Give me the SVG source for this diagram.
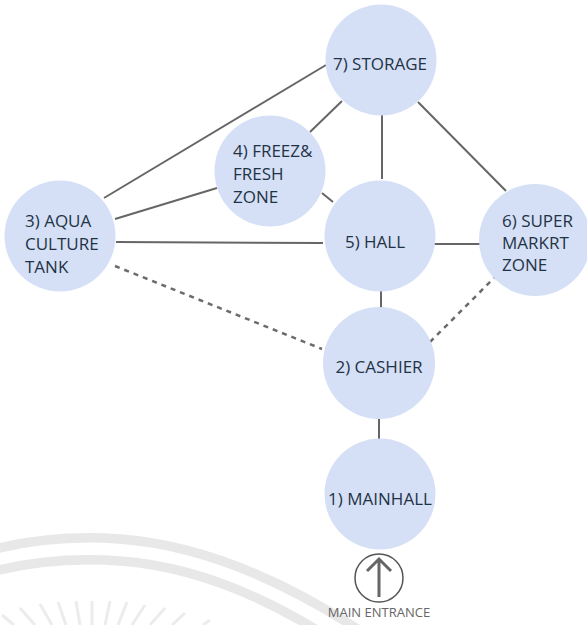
<svg xmlns="http://www.w3.org/2000/svg" width="587" height="625" viewBox="0 0 587 625">
<style>
.n{fill:#d5e0f6}
.t{font-family:"Open Sans","Noto Sans",sans-serif;font-size:17px;fill:#1f3345}
.c{stroke:#666;stroke-width:2;fill:none}
.d{stroke:#6b6b6b;stroke-width:2.5;fill:none;stroke-dasharray:5 5}
.w{stroke:#e8e8e8;stroke-width:9.5;fill:none}
.r{stroke:#ececec;stroke-width:3;fill:none}
</style>
<rect width="587" height="625" fill="#fff"/>
<g id="watermark">
<path class="w" d="M-5 549C40 538 80 536 120 539C200 545 280 578 362 632"/>
<path class="w" d="M-5 571C40 560 80 558 120 561C190 566 260 595 320 632"/>
<path class="r" d="M2 615L14 625M20 608L35 625M40 604L52 625M58 602L66 625M76 601L80 625M92 601L92 625M110 601L105 625M127 602L118 625M145 605L132 625M165 608L150 625M185 613L172 625M210 620L203 625"/>
</g>
<g id="connectors">
<path class="c" d="M104 198L326 65"/>
<path class="c" d="M115 219L217 188"/>
<path class="c" d="M116 242L323 243"/>
<path class="d" d="M115 266L322 349"/>
<path class="c" d="M310 132L342 101"/>
<path class="c" d="M382 115L382 179"/>
<path class="c" d="M418 102L506 191"/>
<path class="c" d="M322 193L333 202"/>
<path class="c" d="M434 244L480 244"/>
<path class="c" d="M381 291L381 308"/>
<path class="d" d="M430 342L495 277"/>
<path class="c" d="M379 418L379 439"/>
</g>
<g id="n7"><circle class="n" cx="381" cy="60" r="55.5"/><text class="t" x="380" y="70" text-anchor="middle">7) STORAGE</text></g>
<g id="n4"><circle class="n" cx="270" cy="171" r="55.5"/><text class="t" x="233" y="157">4) FREEZ&amp;</text><text class="t" x="233" y="180">FRESH</text><text class="t" x="233" y="203">ZONE</text></g>
<g id="n3"><circle class="n" cx="60" cy="236" r="55.5"/><text class="t" x="25" y="227">3) AQUA</text><text class="t" x="25" y="250">CULTURE</text><text class="t" x="25" y="273">TANK</text></g>
<g id="n5"><circle class="n" cx="380" cy="236" r="55.5"/><text class="t" x="375" y="248" text-anchor="middle">5) HALL</text></g>
<g id="n6"><circle class="n" cx="535" cy="240" r="56"/><text class="t" x="502" y="227">6) SUPER</text><text class="t" x="502" y="249">MARKRT</text><text class="t" x="502" y="271">ZONE</text></g>
<g id="n2"><circle class="n" cx="379" cy="363" r="56"/><text class="t" x="379" y="373" text-anchor="middle">2) CASHIER</text></g>
<g id="n1"><circle class="n" cx="380" cy="494" r="55.5"/><text class="t" x="380" y="505" text-anchor="middle">1) MAINHALL</text></g>
<g id="entrance">
<circle cx="379" cy="578" r="24" fill="#fff" stroke="#555" stroke-width="1.5"/>
<path d="M379 597V559M367 571L379 559L391 571" fill="none" stroke="#666" stroke-width="3"/>
<text x="379" y="617" text-anchor="middle" font-family="'Open Sans','Noto Sans',sans-serif" font-size="13" fill="#666">MAIN ENTRANCE</text>
</g>
</svg>
